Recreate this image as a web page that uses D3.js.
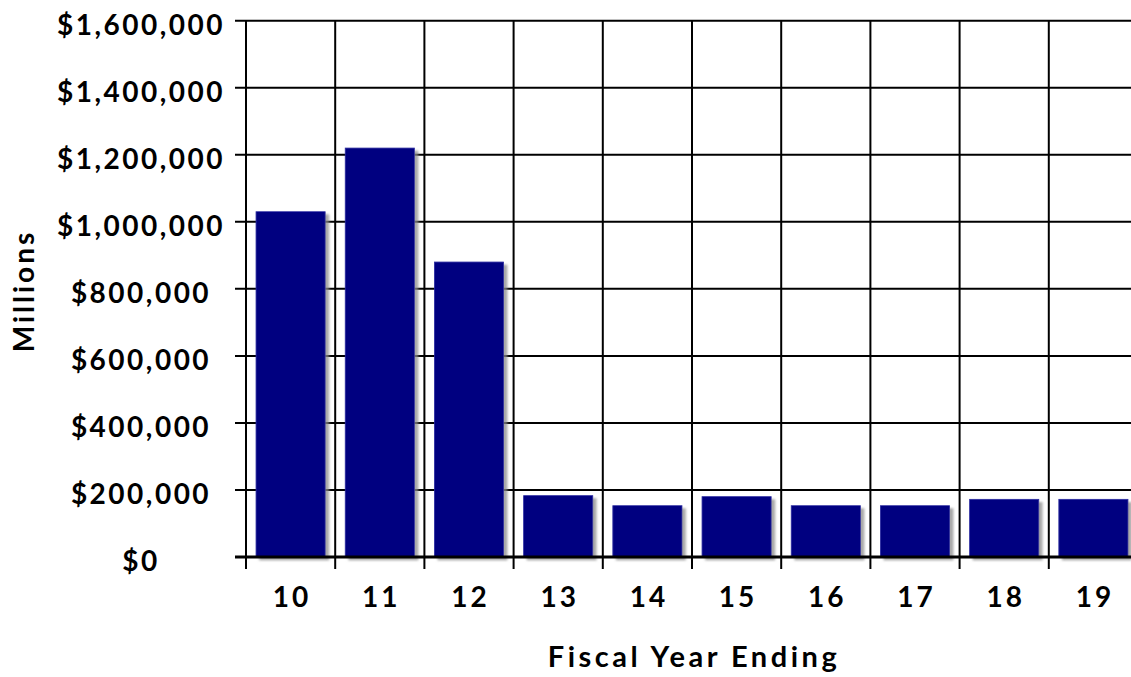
<!DOCTYPE html>
<html><head><meta charset="utf-8">
<script src="https://cdn.jsdelivr.net/npm/d3@7"></script>
<style>
html,body{margin:0;padding:0;background:#fff;overflow:hidden;}
text{font-family:Lato,"DejaVu Sans",sans-serif;font-weight:700;fill:#000;}
</style></head>
<body>
<script>
const categories = ["10","11","12","13","14","15","16","17","18","19"];
const values = [1030000,1220000,880000,183000,153000,180000,153000,153000,172000,172000];
const yTicks = [0,200000,400000,600000,800000,1000000,1200000,1400000,1600000];
const xTitle = "Fiscal Year Ending";
const yTitle = "Millions";

const W = 1131, H = 677;
const mLeft = 246, mRight = 1138, mTop = 20.7, mBottom = 557;

const svg = d3.select("body").append("svg").attr("width", W).attr("height", H);
const defs = svg.append("defs");
const f = defs.append("filter").attr("id","sh").attr("x","-10%").attr("y","-10%").attr("width","130%").attr("height","130%");
f.append("feDropShadow").attr("dx",3.5).attr("dy",3).attr("stdDeviation",0.8).attr("flood-color","#8a8a8a").attr("flood-opacity",0.75);

const x = d3.scaleBand().domain(categories).range([mLeft, mRight]).padding(0);
const y = d3.scaleLinear().domain([0,1600000]).range([mBottom, mTop]);

// horizontal gridlines
svg.append("g").selectAll("line").data(yTicks).join("line")
  .attr("x1", mLeft - 11).attr("x2", mRight)
  .attr("y1", d => y(d)).attr("y2", d => y(d))
  .attr("stroke", "#000").attr("stroke-width", 2);

// vertical gridlines at band boundaries
const bounds = categories.map(c => x(c)).concat([x(categories[categories.length-1]) + x.bandwidth()]);
svg.append("g").selectAll("line").data(bounds).join("line")
  .attr("x1", d => d).attr("x2", d => d)
  .attr("y1", mTop).attr("y2", mBottom + 12)
  .attr("stroke", "#000").attr("stroke-width", 2);

// bars
const bw = x.bandwidth() * 0.775;
svg.append("g").selectAll("rect").data(values).join("rect")
  .attr("x", (d,i) => x(categories[i]) + (x.bandwidth() - bw) / 2)
  .attr("width", bw)
  .attr("y", d => y(d))
  .attr("height", d => mBottom - y(d))
  .attr("fill", "#000080")
  .attr("stroke", "#2a2aa0").attr("stroke-width", 0.8)
  .attr("filter", "url(#sh)");

// baseline axis
svg.append("line").attr("x1", mLeft - 11).attr("x2", mRight)
  .attr("y1", mBottom).attr("y2", mBottom).attr("stroke","#000").attr("stroke-width",3);

// y labels (centered as in the reference)
const fmt = d => "$" + d3.format(",")(d);
svg.append("g").selectAll("text").data(yTicks).join("text")
  .attr("x", 141).attr("y", d => y(d) + 3)
  .attr("text-anchor","middle").attr("dominant-baseline","central")
  .attr("letter-spacing", 2.5)
  .attr("font-size", 28).text(fmt);

// x labels
svg.append("g").selectAll("text").data(categories).join("text")
  .attr("x", d => x(d) + x.bandwidth()/2 + 1.5).attr("y", 607)
  .attr("text-anchor","middle").attr("letter-spacing", 3)
  .attr("font-size", 28).text(d => d);

svg.append("text").attr("x", 694).attr("y", 667).attr("text-anchor","middle")
  .attr("font-size", 29).attr("letter-spacing", 3.5).text(xTitle);

svg.append("text").attr("transform","translate(34,291) rotate(-90)")
  .attr("text-anchor","middle").attr("font-size", 28).attr("letter-spacing", 3).text(yTitle);
</script>
</body></html>
